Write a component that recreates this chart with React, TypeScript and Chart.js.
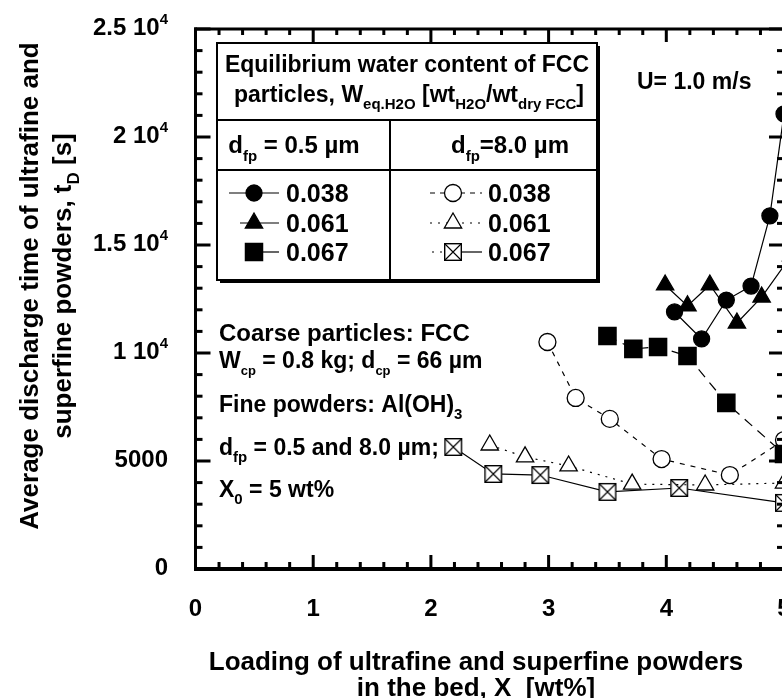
import React, { useEffect, useRef } from "react";
import { Chart, registerables } from "chart.js";

Chart.register(...registerables);

const FONT = '"Liberation Sans", Arial, Helvetica, sans-serif';

// ---- axes ----
const xTickValues = [0, 1, 2, 3, 4, 5];
const xTickLabels = ["0", "1", "2", "3", "4", "5"];
const yTickValues = [0, 5000, 10000, 15000, 20000, 25000];
const yTickLabels = ["0", "5000", "1 10^{4}", "1.5 10^{4}", "2 10^{4}", "2.5 10^{4}"];

// ---- data: d_fp = 0.5 um ----
const x_d05_038 = [4.07, 4.3, 4.51, 4.72, 4.88, 5.0];
const y_d05_038 = [11900, 10650, 12450, 13100, 16350, 21070];
const x_d05_061 = [3.99, 4.18, 4.37, 4.6, 4.81, 5.06];
const y_d05_061 = [13150, 12180, 13150, 11390, 12590, 14500];
const x_d05_067 = [3.5, 3.72, 3.93, 4.18, 4.51, 5.0];
const y_d05_067 = [10790, 10190, 10280, 9860, 7690, 5320];
// ---- data: d_fp = 8.0 um ----
const x_d8_038 = [2.99, 3.23, 3.52, 3.96, 4.54, 5.0];
const y_d8_038 = [10510, 7920, 6950, 5090, 4350, 5970];
const x_d8_061 = [2.5, 2.8, 3.17, 3.71, 4.33, 5.0];
const y_d8_061 = [5740, 5190, 4770, 3930, 3890, 3980];
const x_d8_067 = [2.19, 2.53, 2.93, 3.5, 4.11, 5.0];
const y_d8_067 = [5650, 4400, 4350, 3570, 3750, 3060];

const legendValues = ["0.038", "0.061", "0.067"];

const W = 840;
const H = 698;

type Seg = { t: string; k?: "sub" | "sup" };

function parseRich(s: string): Seg[] {
  const segs: Seg[] = [];
  let i = 0;
  let buf = "";
  while (i < s.length) {
    const c = s[i];
    if ((c === "_" || c === "^") && s[i + 1] === "{") {
      if (buf) {
        segs.push({ t: buf });
        buf = "";
      }
      const end = s.indexOf("}", i);
      segs.push({ t: s.slice(i + 2, end), k: c === "_" ? "sub" : "sup" });
      i = end + 1;
    } else {
      buf += c;
      i++;
    }
  }
  if (buf) segs.push({ t: buf });
  return segs;
}

function drawRich(
  ctx: CanvasRenderingContext2D,
  s: string,
  x: number,
  y: number,
  size: number,
  align: "left" | "center" | "right",
  subScale = 0.64
) {
  const segs = parseRich(s);
  const small = Math.round(size * subScale);
  const widths = segs.map((seg) => {
    ctx.font = `bold ${seg.k ? small : size}px ${FONT}`;
    return ctx.measureText(seg.t).width;
  });
  const total = widths.reduce((a, b) => a + b, 0);
  let cx = align === "left" ? x : align === "center" ? x - total / 2 : x - total;
  ctx.textAlign = "left";
  ctx.textBaseline = "alphabetic";
  segs.forEach((seg, i) => {
    ctx.font = `bold ${seg.k ? small : size}px ${FONT}`;
    const dy = seg.k === "sub" ? size * 0.32 : seg.k === "sup" ? -size * 0.45 : 0;
    ctx.fillText(seg.t, cx, y + dy);
    cx += widths[i];
  });
}

function makeXBox(size: number) {
  const c = document.createElement("canvas");
  c.width = size + 2;
  c.height = size + 2;
  const g = c.getContext("2d")!;
  const o = 1;
  g.fillStyle = "#fff";
  g.fillRect(o, o, size, size);
  g.strokeStyle = "#000";
  g.lineWidth = 1.4;
  g.strokeRect(o + 0.7, o + 0.7, size - 1.4, size - 1.4);
  g.beginPath();
  g.moveTo(o + 1, o + 1);
  g.lineTo(o + size - 1, o + size - 1);
  g.moveTo(o + size - 1, o + 1);
  g.lineTo(o + 1, o + size - 1);
  g.lineWidth = 1.1;
  g.stroke();
  return c;
}

function drawMarker(
  ctx: CanvasRenderingContext2D,
  kind: string,
  filled: boolean,
  x: number,
  y: number,
  xbox: HTMLCanvasElement
) {
  ctx.save();
  ctx.setLineDash([]);
  ctx.fillStyle = filled ? "#000" : "#fff";
  ctx.strokeStyle = "#000";
  ctx.lineWidth = 1.3;
  ctx.beginPath();
  if (kind === "circle") {
    ctx.arc(x, y, filled ? 8 : 8.5, 0, Math.PI * 2);
  } else if (kind === "triangle") {
    const r = 10;
    ctx.moveTo(x, y - r);
    ctx.lineTo(x + r * 0.866, y + r * 0.5);
    ctx.lineTo(x - r * 0.866, y + r * 0.5);
    ctx.closePath();
  } else if (kind === "rect") {
    ctx.rect(x - 8.6, y - 8.6, 17.2, 17.2);
  } else {
    ctx.drawImage(xbox, x - xbox.width / 2, y - xbox.height / 2);
    ctx.restore();
    return;
  }
  ctx.fill();
  ctx.stroke();
  ctx.restore();
}

function legendLine(ctx: CanvasRenderingContext2D, x1: number, x2: number, y: number, dash: number[]) {
  ctx.save();
  ctx.strokeStyle = "#000";
  ctx.lineWidth = 1.2;
  ctx.setLineDash(dash);
  ctx.beginPath();
  ctx.moveTo(x1, y);
  ctx.lineTo(x2, y);
  ctx.stroke();
  ctx.restore();
}

function makePlugin(xbox: HTMLCanvasElement) {
  return {
    id: "frameAndText",
    afterDatasetsDraw(chart: any) {
      const ctx: CanvasRenderingContext2D = chart.ctx;
      const xs = chart.scales.x;
      const ys = chart.scales.y;
      const { left, right, top, bottom } = chart.chartArea;
      ctx.save();
      ctx.fillStyle = "#000";
      ctx.strokeStyle = "#000";

      // frame
      ctx.fillRect(left - 1.5, top - 1.5, 3, bottom - top + 3.5);
      ctx.fillRect(right - 1.5, top - 1.5, 3, bottom - top + 3.5);
      ctx.fillRect(left - 1.5, top - 1.5, right - left + 3, 3);
      ctx.fillRect(left - 1.5, bottom - 2, right - left + 3, 4);

      // x ticks
      for (let i = 0; i < xTickValues.length; i++) {
        const px = xs.getPixelForValue(xTickValues[i]);
        ctx.fillRect(px - 1.5, bottom - 14, 3, 14);
        ctx.fillRect(px - 1.5, top, 3, 13);
        if (i < xTickValues.length - 1) {
          for (let k = 1; k < 5; k++) {
            const v = xTickValues[i] + ((xTickValues[i + 1] - xTickValues[i]) * k) / 5;
            const mx = xs.getPixelForValue(v);
            ctx.fillRect(mx - 1.5, bottom - 7, 3, 7);
            ctx.fillRect(mx - 1.5, top, 3, 6);
          }
        }
        drawRich(ctx, xTickLabels[i], px, 616, 24, "center");
      }
      // y ticks
      for (let i = 0; i < yTickValues.length; i++) {
        const py = ys.getPixelForValue(yTickValues[i]);
        ctx.fillRect(left, py - 1.5, 15, 3);
        ctx.fillRect(right - 15, py - 1.5, 15, 3);
        if (i < yTickValues.length - 1) {
          for (let k = 1; k < 5; k++) {
            const v = yTickValues[i] + ((yTickValues[i + 1] - yTickValues[i]) * k) / 5;
            const my = ys.getPixelForValue(v);
            ctx.fillRect(left, my - 1.5, 7, 3);
            ctx.fillRect(right - 7, my - 1.5, 7, 3);
          }
        }
        drawRich(ctx, yTickLabels[i], 168, py + 6, 24, "right");
      }

      // axis titles
      drawRich(ctx, "Loading of ultrafine and superfine powders", 476, 670, 26, "center");
      drawRich(ctx, "in the bed, X  [wt%]", 476, 696, 26, "center");
      ctx.save();
      ctx.translate(38, 286);
      ctx.rotate(-Math.PI / 2);
      drawRich(ctx, "Average discharge time of ultrafine and", 0, 0, 26, "center");
      ctx.restore();
      ctx.save();
      ctx.translate(71, 286);
      ctx.rotate(-Math.PI / 2);
      drawRich(ctx, "superfine powders, t_{D} [s]", 0, 0, 26, "center");
      ctx.restore();

      // legend table
      const bx = 217, by = 43, bw = 380, bh = 237;
      ctx.fillStyle = "#000";
      ctx.fillRect(bx + 3, by + 3, bw, bh);
      ctx.fillStyle = "#fff";
      ctx.fillRect(bx, by, bw, bh);
      ctx.strokeStyle = "#000";
      ctx.lineWidth = 2;
      ctx.strokeRect(bx, by, bw, bh);
      ctx.beginPath();
      ctx.moveTo(bx, 120);
      ctx.lineTo(bx + bw, 120);
      ctx.moveTo(bx, 170);
      ctx.lineTo(bx + bw, 170);
      ctx.moveTo(390, 120);
      ctx.lineTo(390, by + bh);
      ctx.stroke();
      ctx.fillStyle = "#000";
      drawRich(ctx, "Equilibrium water content of FCC", 407, 72, 23, "center");
      drawRich(ctx, "particles, W_{eq.H2O} [wt_{H2O}/wt_{dry FCC}]", 409, 102, 23, "center");
      drawRich(ctx, "d_{fp} = 0.5 \u00b5m", 294, 153, 24, "center");
      drawRich(ctx, "d_{fp}=8.0 \u00b5m", 510, 153, 24, "center");

      const rowsY = [193, 223, 252];
      const leftKinds = ["circle", "triangle", "rect"];
      const rightKinds = ["circle", "triangle", "xrect"];
      const leftLines: [number, number, number[]][] = [
        [229, 279, []],
        [240, 279, []],
        [262, 279, []],
      ];
      const rightDash = [[5, 5], [2, 6], [2, 6]];
      for (let r = 0; r < 3; r++) {
        const y = rowsY[r];
        legendLine(ctx, leftLines[r][0], leftLines[r][1], y, leftLines[r][2]);
        drawMarker(ctx, leftKinds[r], true, 254, y, xbox);
        if (r < 2) {
          legendLine(ctx, 430, 482, y, rightDash[r]);
        } else {
          legendLine(ctx, 432, 444, y, [2, 6]);
          legendLine(ctx, 462, 482, y, []);
        }
        drawMarker(ctx, rightKinds[r], false, 453, y, xbox);
        ctx.fillStyle = "#000";
        drawRich(ctx, legendValues[r], 286, y + 9, 25, "left");
        drawRich(ctx, legendValues[r], 488, y + 9, 25, "left");
      }

      // annotations
      drawRich(ctx, "U= 1.0 m/s", 637, 89, 23, "left");
      drawRich(ctx, "Coarse particles: FCC", 219, 341, 24, "left");
      drawRich(ctx, "W_{cp} = 0.8 kg; d_{cp} = 66 \u00b5m", 219, 368, 23, "left", 0.58);
      drawRich(ctx, "Fine powders: Al(OH)_{3}", 219, 412, 23, "left");
      drawRich(ctx, "d_{fp} = 0.5 and 8.0 \u00b5m;", 219, 455, 23, "left");
      drawRich(ctx, "X_{0} = 5 wt%", 219, 497, 23, "left");

      ctx.restore();
    },
  };
}

const pts = (xs: number[], ys: number[]) => xs.map((x, i) => ({ x, y: ys[i] }));

export default function App() {
  const ref = useRef<HTMLCanvasElement>(null);
  useEffect(() => {
    const canvas = ref.current!;
    const xbox = makeXBox(18);
    const common = {
      showLine: true,
      clip: false as any,
      tension: 0,
      borderColor: "#000",
      borderWidth: 1.2,
      pointBorderColor: "#000",
      pointBorderWidth: 1.3,
    };
    const chart = new Chart(canvas, {
      type: "scatter",
      data: {
        datasets: [
          { ...common, data: pts(x_d05_038, y_d05_038), pointStyle: "circle", pointRadius: 8, pointBackgroundColor: "#000", borderDash: [] },
          { ...common, data: pts(x_d05_061, y_d05_061), pointStyle: "triangle", pointRadius: 10, pointBackgroundColor: "#000", borderDash: [] },
          { ...common, data: pts(x_d05_067, y_d05_067), pointStyle: "rect", pointRadius: 12.2, pointBackgroundColor: "#000", borderDash: [10, 7] },
          { ...common, data: pts(x_d8_038, y_d8_038), pointStyle: "circle", pointRadius: 8.5, pointBackgroundColor: "#fff", borderDash: [5, 6] },
          { ...common, data: pts(x_d8_061, y_d8_061), pointStyle: "triangle", pointRadius: 10, pointBackgroundColor: "#fff", borderDash: [2, 6] },
          { ...common, data: pts(x_d8_067, y_d8_067), pointStyle: xbox as any, pointRadius: 9, pointBackgroundColor: "#fff", borderDash: [] },
        ] as any,
      },
      options: {
        responsive: false,
        animation: false,
        devicePixelRatio: 1,
        events: [],
        layout: { padding: { left: 195.5, right: W - 784, top: 29, bottom: H - 569 } },
        plugins: { legend: { display: false }, tooltip: { enabled: false } },
        scales: {
          x: { type: "linear", display: false, min: 0, max: 5 },
          y: { type: "linear", display: false, min: 0, max: 25000 },
        },
      },
      plugins: [makePlugin(xbox)],
    });
    return () => chart.destroy();
  }, []);
  return (
    <div
      style={{
        position: "fixed",
        left: 0,
        top: 0,
        width: 782,
        height: 698,
        overflow: "hidden",
        background: "#fff",
      }}
    >
      <canvas ref={ref} width={W} height={H} style={{ display: "block", width: W, height: H }} />
    </div>
  );
}
